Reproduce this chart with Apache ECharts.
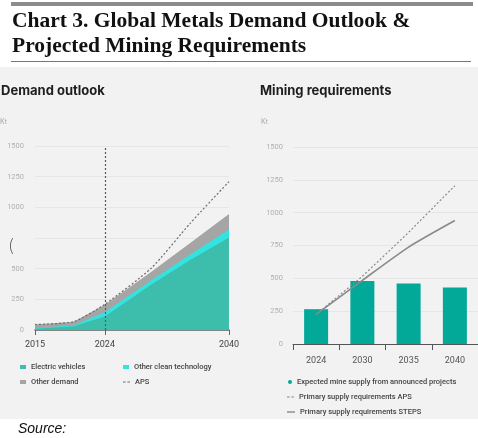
<!DOCTYPE html>
<html>
<head>
<meta charset="utf-8">
<script src="https://cdn.jsdelivr.net/npm/echarts@6/dist/echarts.min.js"></script>
<style>
html,body{margin:0;padding:0;background:#fff;}
#c{width:478px;height:438px;}
</style>
</head>
<body>
<div id="c"></div>
<script>
// ---- Demand outlook (kt) ----
const demandYears = [2015, 2020, 2024, 2030, 2035, 2040];
const electricVehicles = [10, 30, 110, 370, 570, 755];
const otherCleanTech = [5, 8, 35, 35, 45, 65];
const otherDemand = [30, 30, 60, 70, 95, 125];
const apsYears = [2015, 2020, 2024, 2030, 2035, 2040];
const apsDemand = [45, 68, 210, 505, 870, 1210];
const demandTickYears = [2015, 2024, 2040];

// ---- Mining requirements (kt) ----
const miningCategories = ['2024', '2030', '2035', '2040'];
const expectedMineSupply = [265, 480, 460, 430];
const primaryAPS = [225, 515, 850, 1205];
const primarySTEPS = [225, 485, 738, 940];

// stacked tops (cumulative) for the demand areas
const cleanTop = electricVehicles.map((v, i) => v + otherCleanTech[i]);
const totalTop = cleanTop.map((v, i) => v + otherDemand[i]);
const pair = (xs, ys) => xs.map((x, i) => [x, ys[i]]);

const chart = echarts.init(document.getElementById('c'), null, {renderer: 'canvas'});
const sans = 'Roboto, Inter, sans-serif';
const legendText = {color: '#444', fontSize: 7.5, fontWeight: 500, fontFamily: sans};
const dashIcon = 'path://M0,0h3v1.2h-3z M5,0h3v1.2h-3z';
const lineIcon = 'path://M0,0h8v1.4h-8z';

const option = {
  backgroundColor: '#ffffff',
  animation: false,
  graphic: [
    {type: 'rect', shape: {x: 0, y: 67, width: 478, height: 352}, style: {fill: '#f2f2f2'}, z: -10},
    {type: 'rect', shape: {x: 11, y: 2, width: 462, height: 4}, style: {fill: '#8c8c8c'}},
    {type: 'text', x: 12, y: 10, style: {text: 'Chart 3. Global Metals Demand Outlook &', font: 'bold 21.5px "Liberation Serif", serif', fill: '#111'}},
    {type: 'text', x: 12, y: 35, style: {text: 'Projected Mining Requirements', font: 'bold 21.5px "Liberation Serif", serif', fill: '#111'}},
    {type: 'rect', shape: {x: 11, y: 61, width: 460, height: 1}, style: {fill: '#777'}},
    {type: 'text', x: 1, y: 85, style: {text: 'Demand outlook', font: 'bold 13px Inter, sans-serif', fill: '#1e1e1e'}},
    {type: 'text', x: 260, y: 85, style: {text: 'Mining requirements', font: 'bold 13px Inter, sans-serif', fill: '#1e1e1e'}},
    {type: 'text', x: 0, y: 118, style: {text: 'Kt', font: '7px Inter, sans-serif', fill: '#aaa'}},
    {type: 'text', x: 261, y: 118, style: {text: 'Kt', font: '7px Inter, sans-serif', fill: '#aaa'}},
    {type: 'text', x: 8, y: 238, style: {text: '(', font: '300 18px "DejaVu Sans", sans-serif', fill: '#555'}},
    {type: 'text', x: 18, y: 422, style: {text: 'Source:', font: 'italic 14px "Liberation Sans", Arial, sans-serif', fill: '#111'}}
  ],
  grid: [
    {left: 35, top: 146, width: 194, height: 184},
    {left: 293, top: 147, width: 198, height: 197}
  ],
  xAxis: [
    {
      gridIndex: 0, type: 'value', min: 2015, max: 2040,
      axisLine: {lineStyle: {color: '#5c6866', width: 1.5}},
      axisTick: {show: true, customValues: demandTickYears, length: 5, lineStyle: {color: '#5c6866'}},
      axisLabel: {customValues: demandTickYears, color: '#444', fontSize: 9, fontFamily: sans, margin: 10,
        formatter: v => String(v)},
      splitLine: {show: false}
    },
    {
      gridIndex: 1, type: 'category', data: miningCategories, boundaryGap: true,
      axisLine: {lineStyle: {color: '#555', width: 1}},
      axisTick: {show: true, alignWithLabel: false, length: 6, lineStyle: {color: '#555'}},
      axisLabel: {color: '#555', fontSize: 9, fontFamily: sans, margin: 12}
    }
  ],
  yAxis: [
    {
      gridIndex: 0, type: 'value', min: 0, max: 1500, interval: 250,
      axisLine: {show: false}, axisTick: {show: false},
      axisLabel: {color: '#b0b0b0', fontSize: 7.5, fontFamily: sans, margin: 11,
        formatter: v => (v === 750 ? '' : String(v))},
      splitLine: {lineStyle: {color: '#e6e6e6', width: 1}}
    },
    {
      gridIndex: 1, type: 'value', min: 0, max: 1500, interval: 250,
      axisLine: {show: false}, axisTick: {show: false},
      axisLabel: {color: '#b0b0b0', fontSize: 7.5, fontFamily: sans, margin: 10, formatter: v => String(v)},
      splitLine: {lineStyle: {color: '#e6e6e6', width: 1}}
    }
  ],
  legend: [
    {data: ['Electric vehicles'], left: 20, top: 363, padding: 0, icon: 'rect', itemWidth: 6, itemHeight: 4, textStyle: legendText},
    {data: ['Other clean technology'], left: 123, top: 363, padding: 0, icon: 'rect', itemWidth: 6, itemHeight: 4, textStyle: legendText},
    {data: ['Other demand'], left: 20, top: 378, padding: 0, icon: 'rect', itemWidth: 6, itemHeight: 4, textStyle: legendText},
    {data: ['APS'], left: 123, top: 378, padding: 0, icon: dashIcon, itemWidth: 7, itemHeight: 1.2, textStyle: legendText},
    {data: ['Expected mine supply from announced projects'], left: 288, top: 378, padding: 0, icon: 'circle', itemWidth: 4, itemHeight: 4, textStyle: legendText},
    {data: ['Primary supply requirements APS'], left: 287, top: 393, padding: 0, icon: dashIcon, itemWidth: 7, itemHeight: 1.2, textStyle: legendText},
    {data: ['Primary supply requirements STEPS'], left: 287, top: 408, padding: 0, icon: lineIcon, itemWidth: 8, itemHeight: 1.4, textStyle: legendText}
  ],
  series: [
    {
      name: 'Other demand', type: 'line', xAxisIndex: 0, yAxisIndex: 0,
      data: pair(demandYears, totalTop), symbol: 'none',
      lineStyle: {width: 0}, itemStyle: {color: '#a5a5a5'}, areaStyle: {color: '#a5a5a5', opacity: 1}, z: 2
    },
    {
      name: 'Other clean technology', type: 'line', xAxisIndex: 0, yAxisIndex: 0,
      data: pair(demandYears, cleanTop), symbol: 'none',
      lineStyle: {width: 0}, itemStyle: {color: '#33e3e0'}, areaStyle: {color: '#33e3e0', opacity: 1}, z: 3
    },
    {
      name: 'Electric vehicles', type: 'line', xAxisIndex: 0, yAxisIndex: 0,
      data: pair(demandYears, electricVehicles), symbol: 'none',
      lineStyle: {width: 0}, itemStyle: {color: '#3dbdac'}, areaStyle: {color: '#3dbdac', opacity: 1}, z: 4,
      markLine: {
        silent: true, symbol: 'none', label: {show: false},
        lineStyle: {color: '#5a5a5a', type: [2, 2], width: 1.2},
        data: [{xAxis: 2024}]
      }
    },
    {
      name: 'APS', type: 'line', xAxisIndex: 0, yAxisIndex: 0,
      data: pair(apsYears, apsDemand), symbol: 'none', smooth: 0.2,
      lineStyle: {color: '#6e6e6e', width: 1.2, type: [2, 2]}, itemStyle: {color: '#6e6e6e'}, z: 5
    },
    {
      name: 'Expected mine supply from announced projects', type: 'bar', xAxisIndex: 1, yAxisIndex: 1,
      data: expectedMineSupply, barWidth: 24, itemStyle: {color: '#02a998'}, z: 2
    },
    {
      name: 'Primary supply requirements APS', type: 'line', xAxisIndex: 1, yAxisIndex: 1,
      data: primaryAPS, symbol: 'none',
      lineStyle: {color: '#8a8a8a', width: 1.2, type: [2, 2]}, itemStyle: {color: '#8a8a8a'}, z: 4
    },
    {
      name: 'Primary supply requirements STEPS', type: 'line', xAxisIndex: 1, yAxisIndex: 1,
      data: primarySTEPS, symbol: 'none', smooth: 0.2,
      lineStyle: {color: '#8a8a8a', width: 1.6}, itemStyle: {color: '#8a8a8a'}, z: 4
    }
  ]
};
chart.setOption(option);
</script>
</body>
</html>
